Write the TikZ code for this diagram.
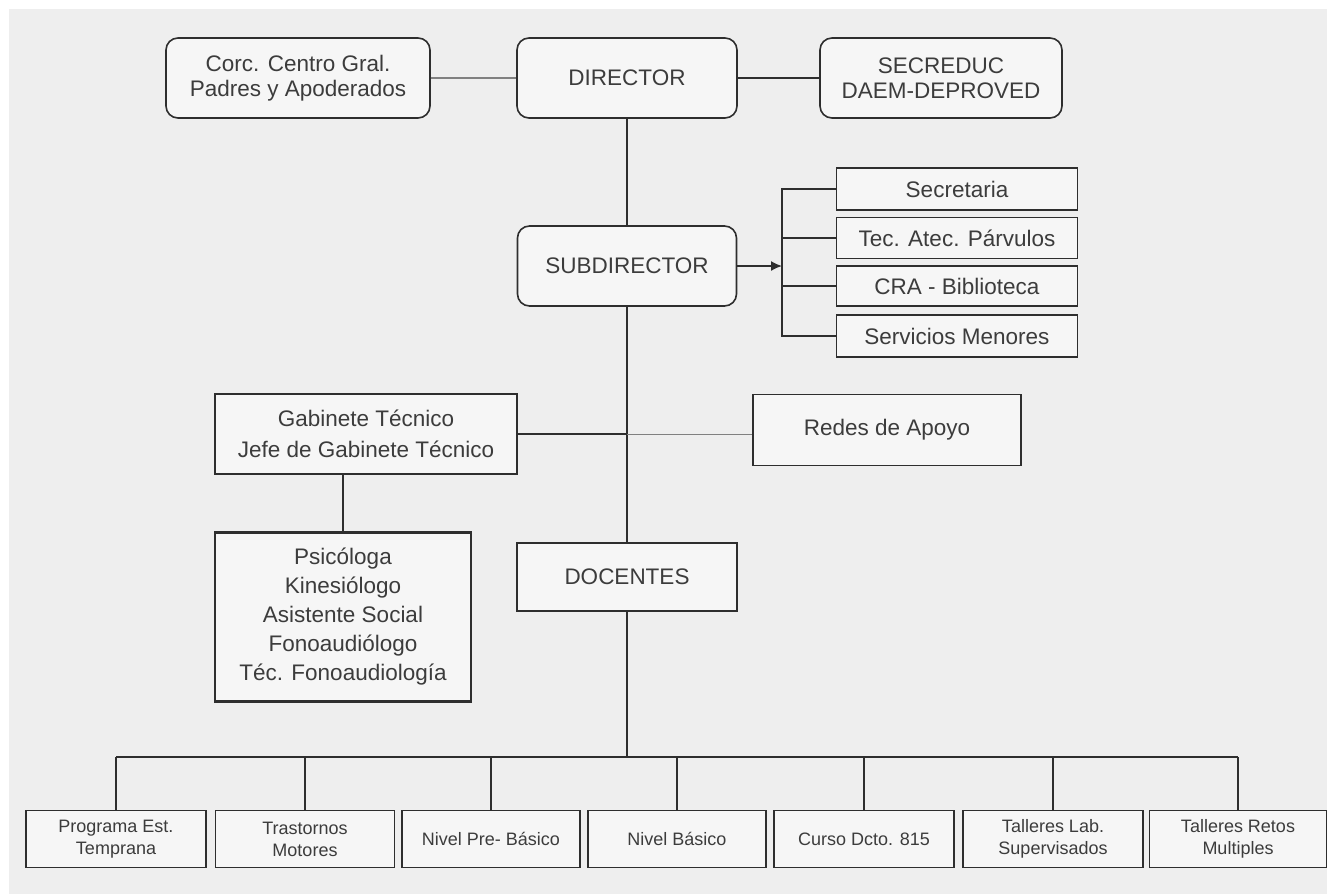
\documentclass[tikz,border=0pt]{standalone}
\usepackage{fontspec}
\setmainfont{Liberation Sans}
\usepackage{tikz}
\usetikzlibrary{arrows.meta,positioning}
\definecolor{bggray}{HTML}{EEEEEE}
\definecolor{boxfill}{HTML}{F6F6F6}
\definecolor{txtgray}{HTML}{3C3C3C}
\definecolor{linegray}{HTML}{2E2E2E}
\tikzset{
	box/.style={draw=linegray, fill=boxfill, line width=1.6pt, inner sep=0pt, align=center, text=txtgray, font=\fontsize{22.5}{25}\selectfont},
	rbox/.style={box, rounded corners=12pt},
	sbox/.style={box, font=\fontsize{18}{22}\selectfont},
	link/.style={draw=linegray, line width=1.6pt}
}

\begin{document}
\begin{tikzpicture}[x=1pt, y=-1pt]
		\useasboundingbox (0,0) rectangle (1327,894);
		\fill[white] (0,0) rectangle (1327,894);
		\fill[bggray] (9,9) rectangle (1327,894);

		\node[rbox, minimum width=264, minimum height=80] (corc) at (298, 78) {Corc. Centro Gral.\\Padres y Apoderados};
		\node[rbox, minimum width=220, minimum height=80] (dir) at (627, 78) {DIRECTOR};
		\node[rbox, minimum width=242, minimum height=80] (secre) at (941, 78) {SECREDUC\\DAEM-DEPROVED};
		\node[rbox, minimum width=219, minimum height=80] (sub) at (627, 266) {SUBDIRECTOR};
		\node[box, minimum width=241, minimum height=42] (secr) at (957, 189) {Secretaria};
		\node[box, minimum width=241, minimum height=41] (tec) at (957, 238) {Tec. Atec. Párvulos};
		\node[box, minimum width=241, minimum height=40] (cra) at (957, 286) {CRA - Biblioteca};
		\node[box, minimum width=241, minimum height=42] (serv) at (957, 336) {Servicios Menores};
		\node[box, minimum width=302, minimum height=80, font=\fontsize{22.5}{31}\selectfont] (gab) at (366, 434) {Gabinete Técnico\\Jefe de Gabinete Técnico};
		\node[box, minimum width=268, minimum height=71] (redes) at (887, 430) {Redes de Apoyo};
		\node[box, line width=2.6pt, minimum width=256, minimum height=169, font=\fontsize{22.5}{29}\selectfont] (psic) at (343, 617) {Psicóloga\\Kinesiólogo\\Asistente Social\\Fonoaudiólogo\\Téc. Fonoaudiología};
		\node[box, minimum width=220, minimum height=68] (doc) at (627, 577) {DOCENTES};

		\node[sbox, minimum width=180, minimum height=57] (prog) at (116, 839) {Programa Est.\\Temprana};
		\node[sbox, minimum width=179, minimum height=57] (tras) at (305, 839) {Trastornos\\Motores};
		\node[sbox, minimum width=178, minimum height=57] (pre) at (491, 839) {Nivel Pre- Básico};
		\node[sbox, minimum width=178, minimum height=57] (bas) at (677, 839) {Nivel Básico};
		\node[sbox, minimum width=180, minimum height=57] (curso) at (864, 839) {Curso Dcto. 815};
		\node[sbox, minimum width=180, minimum height=57] (lab) at (1053, 839) {Talleres Lab.\\Supervisados};
		\node[sbox, minimum width=177, minimum height=57] (retos) at (1238, 839) {Talleres Retos\\Multiples};

		\coordinate (brk) at (782, 266);
		\coordinate (bus) at (627, 757);

		\draw [link, draw=gray, line width=2.4pt] (corc) to (dir);
		\draw [link, line width=2.8pt] (dir) to (secre);
		\draw [link] (dir) to (sub);
		\draw [link] (sub) to (doc);
		\draw [link, -{Latex[length=11pt, width=10pt]}] (sub.east) to (brk);
		\draw [link] (secr.west) -| (brk);
		\draw [link] (serv.west) -| (brk);
		\draw [link] (tec.west) to (tec.west -| brk);
		\draw [link] (cra.west) to (cra.west -| brk);
		\draw [link] (gab.east) to (gab.east -| doc.north);
		\draw [link, draw=gray, line width=1pt] (gab.east -| doc.north) to (gab.east -| redes.west);
		\draw [link] (psic.north) to (psic.north |- gab.south);
		\draw [link] (doc.south) to (bus);
		\draw [link] (bus -| prog.north) to (bus -| retos.north);
		\foreach \b in {prog, tras, pre, bas, curso, lab, retos}
			\draw [link] (bus -| \b.north) to (\b.north);
\end{tikzpicture}
\end{document}
